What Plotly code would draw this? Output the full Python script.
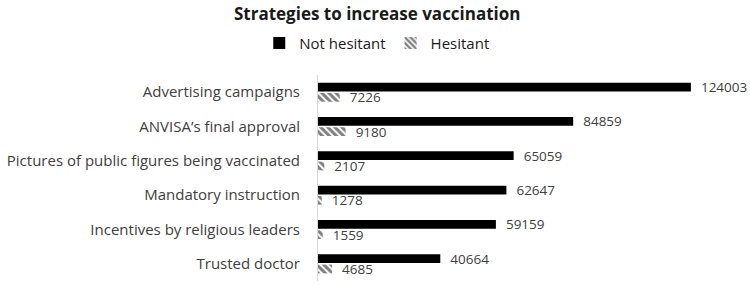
import plotly.graph_objects as go

categories = ["Advertising campaigns", "ANVISA\u2019s final approval",
              "Pictures of public figures being vaccinated", "Mandatory instruction",
              "Incentives by religious leaders", "Trusted doctor"]
not_hesitant = [124003, 84859, 65059, 62647, 59159, 40664]
hesitant = [7226, 9180, 2107, 1278, 1559, 4685]

FONT = "Open Sans"
TXT = "#404040"

fig = go.Figure()
fig.add_trace(go.Bar(
    y=categories, x=not_hesitant, orientation="h", name="Not hesitant",
    marker=dict(color="black", line=dict(width=0)),
    text=[str(v) for v in not_hesitant], texttemplate="\u00a0\u00a0%{text}",
    textposition="outside", cliponaxis=False, constraintext="none",
    textfont=dict(family=FONT, size=13.5, color=TXT)))
fig.add_trace(go.Bar(
    y=categories, x=hesitant, orientation="h", name="Hesitant",
    marker=dict(color="white", line=dict(width=0),
                pattern=dict(shape="\\", fgcolor="black", bgcolor="white",
                             size=5, solidity=0.6)),
    text=[str(v) for v in hesitant], texttemplate="\u00a0\u00a0%{text}",
    textposition="outside", cliponaxis=False, constraintext="none",
    textfont=dict(family=FONT, size=13.5, color=TXT)))

fig.update_layout(
    width=750, height=289,
    margin=dict(l=318, r=11, t=75, b=8, autoexpand=False),
    paper_bgcolor="white", plot_bgcolor="white",
    barmode="group", bargap=0.4, bargroupgap=0.15,
    title=dict(text="<b>Strategies to increase vaccination</b>", x=0.503, xref="container",
               xanchor="center", y=0.953, yref="container", yanchor="middle",
               font=dict(family=FONT, size=17, color="#1a1a1a")),
    legend=dict(orientation="h", x=0.503, xref="container", xanchor="center",
                y=0.85, yref="container", yanchor="middle",
                font=dict(family=FONT, size=15, color="#1a1a1a"),
                itemwidth=30, tracegroupgap=0),
    font=dict(family=FONT, color=TXT),
)
fig.update_xaxes(range=[0, 140000], visible=False, showgrid=False, zeroline=False)
fig.update_yaxes(autorange="reversed", showline=True, linecolor="#d9d9d9", linewidth=1,
                 showgrid=False, ticks="", ticklabelstandoff=14,
                 tickfont=dict(family=FONT, size=15, color=TXT))

fig.write_html("out.html", config={"displayModeBar": False},
               post_script="document.body.style.margin='0';")
